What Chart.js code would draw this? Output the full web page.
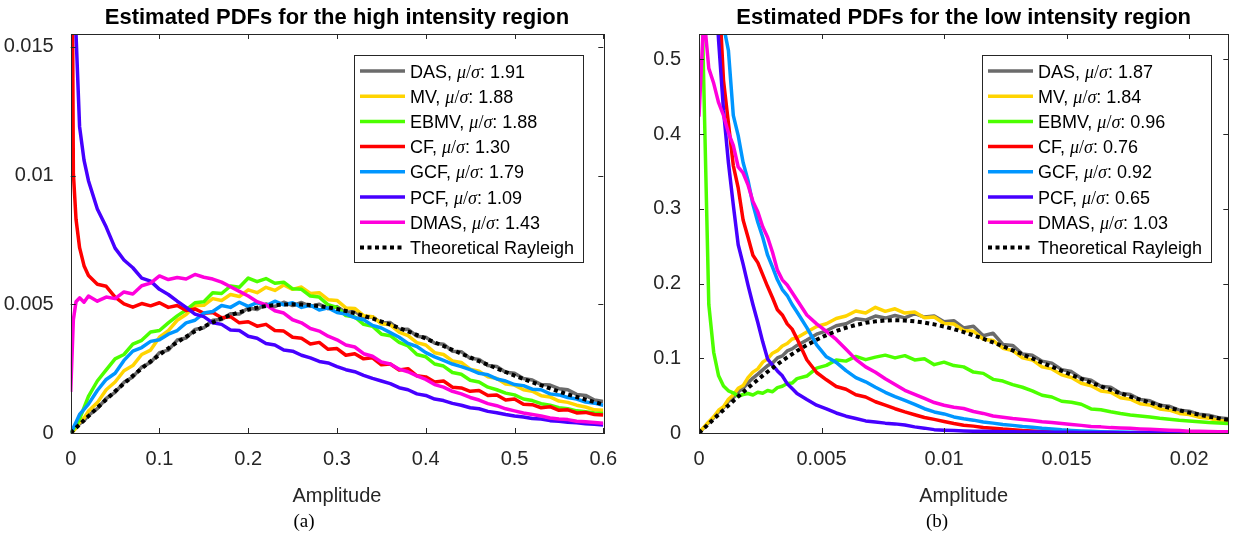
<!DOCTYPE html>
<html>
<head>
<meta charset="utf-8">
<title>Estimated PDFs</title>
<script src="https://cdn.jsdelivr.net/npm/chart.js@4.4.0/dist/chart.umd.min.js"></script>
<style>
    body { margin: 0; background: #fff; }
    #js--wrap { position: relative; width: 1233px; height: 533px; }
    canvas { position: absolute; top: 0; }
    #js--chart--high { left: 0; }
    #js--chart--low { left: 620px; }
</style>
</head>
<body>
<div id="js--wrap">
    <canvas id="js--chart--high" width="620" height="533"></canvas>
    <canvas id="js--chart--low" width="613" height="533"></canvas>
</div>
<script>
const methods = ['DAS', 'MV', 'EBMV', 'CF', 'GCF', 'PCF', 'DMAS', 'Theoretical Rayleigh'];
const colors = ['#6b6b6b', '#ffd400', '#4cff00', '#ff0000', '#0096ff', '#4600ff', '#ff00dc', '#000000'];
const ratiosHigh = ['1.91', '1.88', '1.88', '1.30', '1.79', '1.09', '1.43'];
const ratiosLow = ['1.87', '1.84', '0.96', '0.76', '0.92', '0.65', '1.03'];

//high intensity region
const ticksHighX = [0, 0.1, 0.2, 0.3, 0.4, 0.5, 0.6];
const ticksHighY = [0, 0.005, 0.01, 0.015];
const xHigh = [0, 0.003, 0.006, 0.01, 0.015, 0.02,
    0.03, 0.04, 0.05, 0.06, 0.07, 0.08, 0.09, 0.1, 0.11, 0.12,
    0.13, 0.14, 0.15, 0.16, 0.17, 0.18, 0.19, 0.2, 0.21, 0.22,
    0.23, 0.24, 0.25, 0.26, 0.27, 0.28, 0.29, 0.3, 0.31, 0.32,
    0.33, 0.34, 0.35, 0.36, 0.37, 0.38, 0.39, 0.4, 0.41, 0.42,
    0.43, 0.44, 0.45, 0.46, 0.47, 0.48, 0.49, 0.5, 0.51, 0.52,
    0.53, 0.54, 0.55, 0.56, 0.57, 0.58, 0.59, 0.6];
const dasHigh = [0, 0.00012, 0.00021, 0.00036, 0.00048, 0.00068,
    0.00095, 0.00134, 0.00158, 0.00197, 0.00218, 0.00256, 0.00274, 0.00312, 0.00322, 0.00361,
    0.00369, 0.00402, 0.00409, 0.00438, 0.00441, 0.00463, 0.00462, 0.00486, 0.0048, 0.00501,
    0.00491, 0.00508, 0.00495, 0.00507, 0.00492, 0.005, 0.00483, 0.00491, 0.00468, 0.00473,
    0.00449, 0.00452, 0.00427, 0.00429, 0.00402, 0.00403, 0.00376, 0.00372, 0.00349, 0.00345,
    0.00318, 0.00316, 0.0029, 0.00286, 0.00262, 0.00258, 0.00236, 0.00232, 0.00212, 0.00206,
    0.00188, 0.00186, 0.00172, 0.00168, 0.0015, 0.00146, 0.00128, 0.00122];
const mvHigh = [0, 0.00008, 0.00019, 0.00042, 0.00058, 0.00085,
    0.00118, 0.00168, 0.00198, 0.00242, 0.00262, 0.00305, 0.00322, 0.00372, 0.00398, 0.00438,
    0.0046, 0.00494, 0.00496, 0.00522, 0.00515, 0.00538, 0.0053, 0.00556, 0.00545, 0.00566,
    0.00554, 0.00575, 0.00558, 0.00567, 0.00542, 0.00545, 0.00518, 0.00515, 0.00486, 0.00484,
    0.00456, 0.00452, 0.00424, 0.0042, 0.00392, 0.00378, 0.00351, 0.00342, 0.00312, 0.00305,
    0.0028, 0.00274, 0.00248, 0.0024, 0.00218, 0.00212, 0.0019, 0.00186, 0.00168, 0.00162,
    0.00145, 0.0014, 0.00124, 0.00119, 0.00108, 0.00101, 0.0009, 0.00088];
const ebmvHigh = [0, 0.00015, 0.00028, 0.00055, 0.00098, 0.00142,
    0.00202, 0.00245, 0.00288, 0.00305, 0.00345, 0.0036, 0.00392, 0.00398, 0.00428, 0.00455,
    0.00478, 0.00506, 0.0051, 0.00545, 0.00542, 0.00571, 0.00566, 0.00602, 0.00588, 0.006,
    0.00582, 0.00586, 0.0056, 0.00558, 0.00532, 0.00528, 0.00498, 0.00488, 0.00456, 0.00451,
    0.00422, 0.00415, 0.00384, 0.00378, 0.00352, 0.00338, 0.00305, 0.00296, 0.00268, 0.0026,
    0.00235, 0.00228, 0.00205, 0.00198, 0.00178, 0.00168, 0.00155, 0.00148, 0.00132, 0.00126,
    0.00114, 0.00108, 0.00098, 0.00094, 0.00086, 0.00083, 0.00078, 0.00076];
const cfHigh = [0.03, 0.0101, 0.0083, 0.0072, 0.0065, 0.00612,
    0.00578, 0.0057, 0.00528, 0.00502, 0.00489, 0.00503, 0.00494, 0.00506, 0.00488, 0.00495,
    0.00476, 0.00482, 0.00465, 0.00468, 0.00448, 0.00452, 0.00428, 0.00432, 0.00415, 0.00422,
    0.00398, 0.00396, 0.00372, 0.00368, 0.00346, 0.00352, 0.00325, 0.00328, 0.00302, 0.00308,
    0.00288, 0.00292, 0.00265, 0.00268, 0.00245, 0.0025, 0.00222, 0.00218, 0.00198, 0.00202,
    0.00178, 0.00175, 0.00162, 0.00165, 0.00146, 0.00148, 0.00128, 0.00132, 0.00112, 0.0011,
    0.00098, 0.00102, 0.00088, 0.0009, 0.00078, 0.0008, 0.00072, 0.0007];
const gcfHigh = [0, 0.0002, 0.00042, 0.00072, 0.00092, 0.00112,
    0.00165, 0.00208, 0.00232, 0.00282, 0.00318, 0.00332, 0.00356, 0.00362, 0.00384, 0.00398,
    0.00428, 0.00438, 0.00466, 0.00472, 0.00495, 0.00488, 0.00508, 0.00492, 0.00506, 0.00494,
    0.00512, 0.00498, 0.00506, 0.00488, 0.00496, 0.00478, 0.00486, 0.00468, 0.00462, 0.00448,
    0.0044, 0.00418, 0.00408, 0.0039, 0.00372, 0.00348, 0.00336, 0.00312, 0.00296, 0.00282,
    0.00268, 0.00258, 0.00246, 0.00232, 0.00226, 0.0021, 0.00202, 0.00188, 0.00184, 0.0017,
    0.00168, 0.00152, 0.00148, 0.00138, 0.00132, 0.0012, 0.00116, 0.00108];
const pcfHigh = [0.04, 0.022, 0.0155, 0.0119, 0.0106, 0.0098,
    0.0087, 0.008, 0.00718, 0.00672, 0.00642, 0.00602, 0.0059, 0.00558, 0.00538, 0.00512,
    0.00488, 0.00462, 0.00452, 0.00428, 0.00422, 0.004, 0.00398, 0.00376, 0.00368, 0.00348,
    0.00342, 0.00322, 0.00318, 0.00302, 0.00292, 0.00278, 0.00272, 0.00258, 0.00246, 0.00238,
    0.00224, 0.00212, 0.00202, 0.00192, 0.00176, 0.00168, 0.00152, 0.00146, 0.00132, 0.00126,
    0.00115, 0.00108, 0.00098, 0.00094, 0.00084, 0.00079, 0.00072, 0.00066, 0.00062, 0.00056,
    0.00054, 0.00048, 0.00046, 0.00042, 0.0004, 0.00036, 0.00034, 0.00031];
const dmasHigh = [0.0016, 0.0044, 0.0051, 0.00525, 0.00508, 0.00532,
    0.00512, 0.00528, 0.00522, 0.00548, 0.0054, 0.00572, 0.00582, 0.0061, 0.00596, 0.00604,
    0.00598, 0.00616, 0.00605, 0.00598, 0.00586, 0.00568, 0.0055, 0.00532, 0.0051, 0.00498,
    0.00475, 0.00466, 0.0044, 0.00428, 0.00406, 0.00396, 0.00376, 0.00362, 0.00342, 0.00334,
    0.00308, 0.00298, 0.00276, 0.00268, 0.00248, 0.00238, 0.00222, 0.00208, 0.00188, 0.00178,
    0.00162, 0.00152, 0.00138, 0.00128, 0.00114, 0.00106, 0.00094, 0.00086, 0.00078, 0.00072,
    0.00066, 0.00058, 0.00054, 0.00052, 0.00046, 0.00044, 0.00041, 0.00038];
const rayleighHigh = [0, 0.0001, 0.000198, 0.00033, 0.000494, 0.000657,
    0.00098, 0.0013, 0.00162, 0.00192, 0.00222, 0.00251, 0.00278, 0.00304, 0.00329, 0.00353,
    0.00374, 0.00395, 0.00413, 0.0043, 0.00445, 0.00458, 0.00469, 0.00479, 0.00487, 0.00493,
    0.00497, 0.00499, 0.005, 0.00499, 0.00497, 0.00493, 0.00488, 0.00482, 0.00474, 0.00465,
    0.00455, 0.00445, 0.00433, 0.00421, 0.00408, 0.00395, 0.00381, 0.00367, 0.00352, 0.00338,
    0.00323, 0.00308, 0.00294, 0.00279, 0.00265, 0.00251, 0.00237, 0.00223, 0.0021, 0.00197,
    0.00185, 0.00173, 0.00161, 0.0015, 0.0014, 0.0013, 0.0012, 0.00111];

//low intensity region
const ticksLowX = [0, 0.005, 0.01, 0.015, 0.02];
const ticksLowY = [0, 0.1, 0.2, 0.3, 0.4, 0.5];
const xLow = [0, 0.0002, 0.0004, 0.0006, 0.0008, 0.001, 0.0012, 0.0014, 0.0016, 0.0018,
    0.002, 0.0022, 0.0024, 0.0026, 0.0028, 0.003, 0.0032, 0.0034, 0.0036, 0.0038,
    0.004, 0.0044, 0.0048, 0.0052, 0.0056, 0.006, 0.0064, 0.0068, 0.0072, 0.0076,
    0.008, 0.0084, 0.0088, 0.0092, 0.0096, 0.01, 0.0104, 0.0108, 0.0112, 0.0116,
    0.012, 0.0124, 0.0128, 0.0132, 0.0136, 0.014, 0.0144, 0.0148, 0.0152, 0.0156,
    0.016, 0.0164, 0.0168, 0.0172, 0.0176, 0.018, 0.0184, 0.0188, 0.0192, 0.0196,
    0.02, 0.0204, 0.0208, 0.0212, 0.0216];
const dasLow = [0, 0.0072, 0.0142, 0.0205, 0.0282, 0.0338, 0.0425, 0.0468, 0.0552, 0.0598,
    0.0672, 0.0735, 0.0788, 0.0845, 0.0902, 0.0938, 0.1005, 0.1032, 0.1098, 0.1125,
    0.1172, 0.1245, 0.1322, 0.1368, 0.1435, 0.1462, 0.1528, 0.1512, 0.1565, 0.1538,
    0.1572, 0.1541, 0.1598, 0.1552, 0.1565, 0.1488, 0.1502, 0.1405, 0.1428, 0.1302,
    0.1335, 0.1185, 0.1172, 0.1058, 0.1042, 0.0962, 0.0935, 0.0848, 0.0822, 0.0732,
    0.0705, 0.0625, 0.0612, 0.0532, 0.0515, 0.0448, 0.0432, 0.0372, 0.0358, 0.0305,
    0.0292, 0.0252, 0.0238, 0.0205, 0.0192];
const mvLow = [0, 0.0078, 0.0152, 0.0218, 0.0305, 0.0352, 0.0452, 0.0512, 0.0598, 0.0635,
    0.0742, 0.0815, 0.0858, 0.0948, 0.0992, 0.1068, 0.1102, 0.1165, 0.1198, 0.1258,
    0.1275, 0.1352, 0.1425, 0.1462, 0.1532, 0.1565, 0.1632, 0.1605, 0.1682, 0.1628,
    0.1662, 0.1605, 0.1618, 0.1542, 0.1552, 0.1465, 0.1458, 0.1372, 0.1362, 0.1255,
    0.1238, 0.1135, 0.1102, 0.1005, 0.0978, 0.0885, 0.0858, 0.0778, 0.0742, 0.0665,
    0.0632, 0.0562, 0.0545, 0.0472, 0.0452, 0.0392, 0.0375, 0.0322, 0.0305, 0.0262,
    0.0248, 0.0212, 0.0198, 0.0168, 0.0155];
const ebmvLow = [0.75, 0.46, 0.172, 0.108, 0.0765, 0.0628, 0.0565, 0.0538, 0.0492, 0.0515,
    0.0528, 0.0508, 0.0545, 0.0532, 0.0568, 0.0552, 0.0608, 0.0625, 0.0662, 0.0668,
    0.0728, 0.0762, 0.0868, 0.0905, 0.0978, 0.0962, 0.1025, 0.0982, 0.1015, 0.1042,
    0.1005, 0.1035, 0.0978, 0.0995, 0.0915, 0.0948, 0.0902, 0.0885, 0.0815, 0.0798,
    0.0718, 0.0695, 0.0648, 0.0612, 0.0565, 0.0505, 0.0482, 0.0425, 0.0412, 0.0385,
    0.0322, 0.0312, 0.0285, 0.0262, 0.0242, 0.0228, 0.0215, 0.0198, 0.0185, 0.0172,
    0.0162, 0.0152, 0.0142, 0.0135, 0.0128];
const cfLow = [null, null, null, null, 0.6, 0.472, 0.415, 0.358, 0.328, 0.285,
    0.262, 0.238, 0.228, 0.212, 0.196, 0.181, 0.165, 0.158, 0.146, 0.139,
    0.126, 0.098, 0.081, 0.0712, 0.0622, 0.0585, 0.0512, 0.0482, 0.0418, 0.0372,
    0.0325, 0.0282, 0.0245, 0.0208, 0.0182, 0.0155, 0.0128, 0.0105, 0.0092, 0.0075,
    0.0065, 0.0052, 0.0042, 0.0032, 0.0026, 0.0021, 0.0018, 0.0014, 0.0012, 0.001,
    0.0008, 0.0007, 0.0006, 0.0005, 0.0005, 0.0004, 0.0004, 0.0003, 0.0003, 0.0003,
    0.0002, 0.0002, 0.0002, 0.0002, 0.0002];
const gcfLow = [null, null, null, null, 0.62, 0.545, 0.512, 0.425, 0.398, 0.362,
    0.338, 0.306, 0.282, 0.262, 0.238, 0.222, 0.205, 0.192, 0.184, 0.172,
    0.162, 0.141, 0.118, 0.102, 0.0945, 0.0835, 0.0742, 0.0685, 0.0612, 0.0545,
    0.0488, 0.0435, 0.0382, 0.0325, 0.0282, 0.0255, 0.0215, 0.0192, 0.0172, 0.0148,
    0.0132, 0.0115, 0.0102, 0.0088, 0.0078, 0.0065, 0.0055, 0.0042, 0.0035, 0.0028,
    0.0022, 0.0018, 0.0015, 0.0012, 0.001, 0.0009, 0.0008, 0.0007, 0.0006, 0.0005,
    0.0005, 0.0004, 0.0004, 0.0003, 0.0003];
const pcfLow = [null, null, null, 0.64, 0.525, 0.432, 0.362, 0.305, 0.252, 0.226,
    0.198, 0.172, 0.148, 0.122, 0.099, 0.091, 0.083, 0.0765, 0.066, 0.0595,
    0.0528, 0.0448, 0.0372, 0.0322, 0.0268, 0.0225, 0.0195, 0.0162, 0.0148, 0.0132,
    0.0122, 0.0108, 0.0082, 0.0065, 0.0045, 0.0038, 0.0032, 0.0028, 0.0025, 0.0022,
    0.002, 0.0018, 0.0016, 0.0014, 0.0013, 0.0012, 0.0011, 0.001, 0.0009, 0.0008,
    0.0007, 0.0006, 0.0006, 0.0005, 0.0005, 0.0004, 0.0004, 0.0003, 0.0003, 0.0003,
    0.0002, 0.0002, 0.0002, 0.0002, 0.0002];
const dmasLow = [0.4235, 0.56, 0.488, 0.468, 0.442, 0.425, 0.402, 0.385, 0.356, 0.348,
    0.332, 0.31, 0.296, 0.276, 0.262, 0.242, 0.218, 0.205, 0.198, 0.188,
    0.178, 0.158, 0.146, 0.136, 0.1252, 0.112, 0.0985, 0.0885, 0.0812, 0.0725,
    0.0648, 0.0572, 0.0518, 0.0462, 0.0408, 0.0372, 0.0345, 0.0328, 0.0288, 0.0262,
    0.0228, 0.0212, 0.0195, 0.0182, 0.0168, 0.0152, 0.0142, 0.0128, 0.0115, 0.0102,
    0.0088, 0.0082, 0.0072, 0.0066, 0.0062, 0.0055, 0.005, 0.0042, 0.0036, 0.0032,
    0.0025, 0.0022, 0.002, 0.0018, 0.0016];
const rayleighLow = [0, 0.0062, 0.0124, 0.0186, 0.0248, 0.0309, 0.0369, 0.0429, 0.0488, 0.0546,
    0.0603, 0.0659, 0.0714, 0.0768, 0.082, 0.087, 0.0919, 0.0967, 0.1012, 0.1056,
    0.1099, 0.1177, 0.1248, 0.131, 0.1364, 0.1409, 0.1446, 0.1474, 0.1494, 0.1506,
    0.151, 0.1506, 0.1495, 0.1478, 0.1454, 0.1425, 0.139, 0.1351, 0.1308, 0.1262,
    0.1212, 0.1161, 0.1107, 0.1053, 0.0998, 0.0942, 0.0887, 0.0832, 0.0778, 0.0725,
    0.0674, 0.0624, 0.0577, 0.0531, 0.0487, 0.0446, 0.0407, 0.037, 0.0336, 0.0303,
    0.0273, 0.0246, 0.022, 0.0197, 0.0176];

const sans = "'Liberation Sans', Arial, Helvetica, sans-serif";
const serif = "'Liberation Serif', 'Times New Roman', serif";
const axisColor = '#262626';

function makeDatasets(xs, series) {
    return series.map(function (ys, i) {
        return {
            label: methods[i],
            data: xs.map(function (x, j) { return { x: x, y: ys[j] }; }),
            borderColor: colors[i],
            borderWidth: i === 7 ? 4 : 3.5,
            borderDash: i === 7 ? [4, 3.5] : [],
            borderJoinStyle: 'round',
            pointRadius: 0,
            tension: 0,
            order: 7 - i
        };
    });
}

function formatTick(value) {
    return String(Number(value.toFixed(6)));
}

// box, inward ticks, legend and the (a)/(b) caption, drawn like the matlab figure
const matlabAxes = {
    id: 'matlabAxes',
    afterDraw(chart, args, opts) {
        const ctx = chart.ctx;
        const a = chart.chartArea;
        const xs = chart.scales.x;
        const ys = chart.scales.y;
        ctx.save();
        ctx.strokeStyle = axisColor;
        ctx.lineWidth = 1;
        ctx.beginPath();
        xs.ticks.forEach(function (t) {
            const px = Math.round(xs.getPixelForValue(t.value)) + 0.5;
            ctx.moveTo(px, a.bottom);
            ctx.lineTo(px, a.bottom - 5);
            ctx.moveTo(px, a.top);
            ctx.lineTo(px, a.top + 5);
        });
        ys.ticks.forEach(function (t) {
            const py = Math.round(ys.getPixelForValue(t.value)) + 0.5;
            ctx.moveTo(a.left, py);
            ctx.lineTo(a.left + 5, py);
            ctx.moveTo(a.right, py);
            ctx.lineTo(a.right - 5, py);
        });
        ctx.stroke();
        ctx.strokeRect(Math.round(a.left) + 0.5, Math.round(a.top) + 0.5,
            Math.round(a.right - a.left), Math.round(a.bottom - a.top));

        // legend
        const bw = 229, bh = 207;
        const bx = Math.round(a.right - opts.legendRight - bw);
        const by = Math.round(a.top + 21);
        ctx.fillStyle = '#ffffff';
        ctx.fillRect(bx, by, bw, bh);
        ctx.strokeStyle = axisColor;
        ctx.strokeRect(bx + 0.5, by + 0.5, bw, bh);
        chart.data.datasets.forEach(function (ds, i) {
            const ly = by + 16 + i * 25.2;
            ctx.strokeStyle = ds.borderColor;
            ctx.lineWidth = ds.borderWidth;
            ctx.setLineDash(ds.borderDash);
            ctx.beginPath();
            ctx.moveTo(bx + 6, ly);
            ctx.lineTo(bx + 51, ly);
            ctx.stroke();
            ctx.setLineDash([]);

            let tx = bx + 56;
            const base = ly + 6.5;
            ctx.fillStyle = '#000000';
            ctx.textAlign = 'left';
            ctx.textBaseline = 'alphabetic';
            const ratio = opts.ratios[i];
            const parts = ratio === undefined
                ? [[ds.label, '18px ' + sans]]
                : [[ds.label + ', ', '18px ' + sans], ['\u03bc', 'italic 18px ' + serif],
                   ['/', '18px ' + serif], ['\u03c3', 'italic 18px ' + serif], [': ' + ratio, '18px ' + sans]];
            parts.forEach(function (p) {
                ctx.font = p[1];
                ctx.fillText(p[0], tx, base);
                tx += ctx.measureText(p[0]).width;
            });
        });

        ctx.font = '19px ' + serif;
        ctx.fillStyle = '#000000';
        ctx.textAlign = 'center';
        ctx.textBaseline = 'middle';
        ctx.fillText(opts.caption, opts.captionX, 522);
        ctx.restore();
    }
};

function makeConfig(title, xs, series, xMax, yMax, ticksX, ticksY, yWidth, padRight, yPad, legend) {
    return {
        type: 'line',
        data: { datasets: makeDatasets(xs, series) },
        options: {
            responsive: false,
            animation: false,
            events: [],
            layout: { padding: { left: 0, right: padRight, top: 0, bottom: 0 } },
            scales: {
                x: {
                    type: 'linear',
                    min: 0,
                    max: xMax,
                    afterBuildTicks: function (s) { s.ticks = ticksX.map(function (v) { return { value: v }; }); },
                    afterFit: function (s) { s.height = 100; s.paddingLeft = 0; s.paddingRight = 0; },
                    grid: { display: false },
                    border: { display: false },
                    ticks: { color: axisColor, font: { family: sans, size: 20 }, padding: 6, maxRotation: 0, autoSkip: false, callback: formatTick },
                    title: { display: true, text: 'Amplitude', color: axisColor, font: { family: sans, size: 20 }, padding: { top: 0, bottom: 24.5 } }
                },
                y: {
                    type: 'linear',
                    min: 0,
                    max: yMax,
                    afterBuildTicks: function (s) { s.ticks = ticksY.map(function (v) { return { value: v }; }); },
                    afterFit: function (s) { s.width = yWidth; s.paddingTop = 0; s.paddingBottom = 0; },
                    grid: { display: false },
                    border: { display: false },
                    ticks: { color: axisColor, font: { family: sans, size: 20 }, padding: yPad, autoSkip: false, callback: formatTick }
                }
            },
            plugins: {
                legend: { display: false },
                tooltip: { enabled: false },
                title: {
                    display: true,
                    text: title,
                    fullSize: false,
                    color: '#000000',
                    font: { family: sans, size: 22, weight: 'bold' },
                    padding: { top: 4.8, bottom: 2.8 }
                },
                matlabAxes: legend
            }
        },
        plugins: [matlabAxes]
    };
}

new Chart(
    document.getElementById('js--chart--high'),
    makeConfig('Estimated PDFs for the high intensity region', xHigh,
        [dasHigh, mvHigh, ebmvHigh, cfHigh, gcfHigh, pcfHigh, dmasHigh, rayleighHigh],
        0.6, 0.0155, ticksHighX, ticksHighY, 70.7, 16.7, 9,
        { legendRight: 20.3, ratios: ratiosHigh, caption: '(a)', captionX: 304 })
);

new Chart(
    document.getElementById('js--chart--low'),
    makeConfig('Estimated PDFs for the low intensity region', xLow,
        [dasLow, mvLow, ebmvLow, cfLow, gcfLow, pcfLow, dmasLow, rayleighLow],
        0.0216, 0.534, ticksLowX, ticksLowY, 79, 4.7, 10,
        { legendRight: 17.6, ratios: ratiosLow, caption: '(b)', captionX: 317 })
);
</script>
</body>
</html>
